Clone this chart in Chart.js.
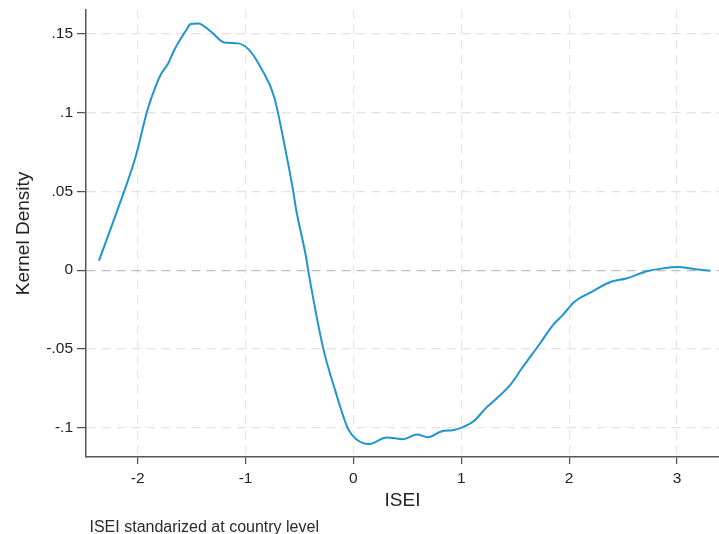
<!DOCTYPE html>
<html>
<head>
<meta charset="utf-8">
<title>Kernel Density</title>
<script src="https://cdn.jsdelivr.net/npm/chart.js@4"></script>
<style>
  html, body { margin: 0; padding: 0; background: #fff; }
  #wrap { position: relative; width: 719px; height: 534px; }
</style>
</head>
<body>
<div id="wrap"><canvas id="grafico" width="719" height="534"></canvas></div>
<script>
// ISEI (standardized) and kernel density difference along it
const isei = [-2.36, -2.20, -2.02, -1.91, -1.83, -1.78, -1.72, -1.66, -1.55, -1.51,
  -1.44, -1.32, -1.20, -1.07, -0.97, -0.85, -0.735, -0.63, -0.56, -0.53,
  -0.44, -0.42, -0.28, -0.17, -0.05, 0.03, 0.14, 0.31, 0.46, 0.59,
  0.69, 0.82, 0.92, 1.01, 1.12, 1.23, 1.34, 1.46, 1.56, 1.73,
  1.85, 1.94, 2.05, 2.19, 2.39, 2.53, 2.73, 2.87, 3.01, 3.17, 3.31];
const densidade = [0.006, 0.036, 0.072, 0.1017, 0.1175, 0.125, 0.131, 0.140, 0.1525, 0.1563,
  0.1567, 0.1514, 0.1446, 0.144, 0.140, 0.1275, 0.110, 0.0762, 0.0508, 0.038,
  0.0085, 0, -0.0497, -0.0762, -0.1008, -0.1076, -0.1105, -0.1063, -0.1074, -0.1044,
  -0.1061, -0.1023, -0.1017, -0.0999, -0.0957, -0.0875, -0.0808, -0.0724, -0.0625, -0.0466,
  -0.0349, -0.0286, -0.0201, -0.0145, -0.0074, -0.0053, -0.0006, 0.0011, 0.0019, 0.0006, -0.0004];

const ticksX = [-2, -1, 0, 1, 2, 3];
const ticksY = [-0.1, -0.05, 0, 0.05, 0.1, 0.15];
const rotulosY = ['-.1', '-.05', '0', '.05', '.1', '.15'];

const fonte = '"Liberation Sans", Arial, sans-serif';

const nota = {
  id: 'nota',
  afterDraw(chart) {
    const ctx = chart.ctx;
    ctx.save();
    ctx.font = '16px ' + fonte;
    ctx.fillStyle = '#2a2a2a';
    ctx.textBaseline = 'alphabetic';
    ctx.fillText('ISEI standarized at country level', 89.5, 532);
    ctx.restore();
  }
};

const ctx = document.getElementById('grafico').getContext('2d');
new Chart(ctx, {
  type: 'line',
  data: {
    datasets: [{
      data: isei.map((x, i) => ({ x: x, y: densidade[i] })),
      borderColor: '#1e96cd',
      borderWidth: 2,
      pointRadius: 0,
      cubicInterpolationMode: 'monotone',
      fill: false
    }]
  },
  options: {
    responsive: false,
    animation: false,
    layout: { padding: { top: 10, right: 0, left: 0, bottom: 0 } },
    plugins: { legend: { display: false }, tooltip: { enabled: false } },
    scales: {
      x: {
        type: 'linear',
        min: -2.48,
        max: 3.39,
        afterBuildTicks: s => { s.ticks = ticksX.map(v => ({ value: v })); },
        afterFit: s => { s.height = 77; s.paddingLeft = 0; s.paddingRight = 0; },
        grid: {
          color: '#e6e6e6',
          lineWidth: 1.2,
          tickColor: '#555',
          tickLength: 7,
          tickWidth: 1.3
        },
        border: { display: true, color: '#555', width: 1.5, dash: [9, 6] },
        ticks: {
          padding: 5,
          color: '#222',
          font: { family: fonte, size: 15.5 },
          callback: v => String(v)
        },
        title: {
          display: true,
          text: 'ISEI',
          color: '#222',
          font: { family: fonte, size: 19 },
          padding: { top: 0, bottom: 21.6 }
        }
      },
      y: {
        min: -0.1187,
        max: 0.1652,
        afterBuildTicks: s => { s.ticks = ticksY.map(v => ({ value: v })); },
        afterFit: s => { s.width = 86; s.paddingTop = 0; s.paddingBottom = 0; },
        grid: {
          color: c => (c.tick && c.tick.value === 0 ? '#bdbdbd' : '#e2e2e2'),
          lineWidth: 1.2,
          tickColor: '#555',
          tickLength: 9,
          tickWidth: 1.3
        },
        border: { display: true, color: '#555', width: 1.5, dash: [9, 6] },
        ticks: {
          padding: 4,
          color: '#222',
          font: { family: fonte, size: 15.5 },
          callback: (v, i) => rotulosY[ticksY.indexOf(v)] ?? ''
        },
        title: {
          display: true,
          text: 'Kernel Density',
          color: '#222',
          font: { family: fonte, size: 19 },
          padding: { top: 12.5, bottom: 0 }
        }
      }
    }
  },
  plugins: [nota]
});
</script>
</body>
</html>
